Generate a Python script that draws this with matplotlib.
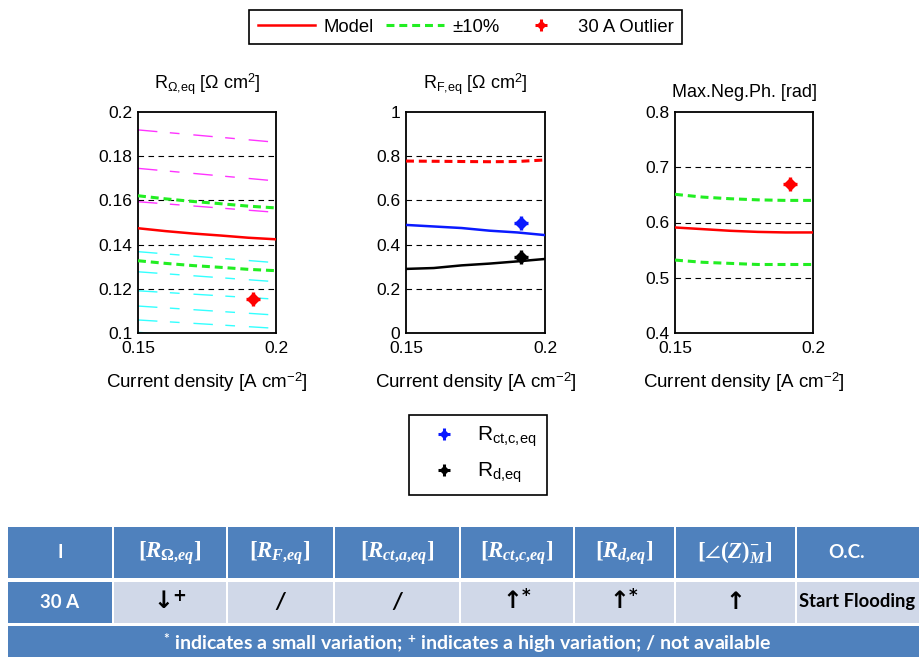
import numpy as np
import matplotlib.pyplot as plt
from matplotlib.lines import Line2D
from matplotlib.patches import Rectangle
from matplotlib.legend_handler import HandlerTuple
from matplotlib.ticker import FormatStrFormatter

plt.rcParams['font.family'] = ['Liberation Sans', 'DejaVu Sans']
plt.rcParams['mathtext.fontset'] = 'custom'
plt.rcParams['mathtext.it'] = 'Liberation Serif:italic:bold'
plt.rcParams['mathtext.rm'] = 'Liberation Serif:bold'
plt.rcParams['mathtext.bf'] = 'Liberation Serif:bold'

# current density [A cm-2]
cd = [0.15, 0.16, 0.17, 0.18, 0.19, 0.20]
cd_ends = [0.15, 0.20]
cd_out = 0.1915

# R_ohm,eq panel
r_ohm_model = [0.1474, 0.1461, 0.1450, 0.1441, 0.1431, 0.1424]
r_ohm_up = [0.1621, 0.1607, 0.1595, 0.1585, 0.1574, 0.1566]
r_ohm_low = [0.1327, 0.1315, 0.1305, 0.1297, 0.1288, 0.1282]
r_ohm_magenta = [[0.1919, 0.1863], [0.1745, 0.1688], [0.1594, 0.1546]]
r_ohm_cyan = [[0.1368, 0.1318], [0.1277, 0.1232], [0.1191, 0.1153],
              [0.1122, 0.1081], [0.1059, 0.1021], [0.1003, 0.0962]]
r_ohm_out = 0.1152

# R_F,eq panel
r_f_model = [0.778, 0.777, 0.776, 0.775, 0.776, 0.783]
r_ctc_model = [0.489, 0.482, 0.475, 0.463, 0.455, 0.443]
r_d_model = [0.290, 0.294, 0.306, 0.314, 0.324, 0.335]
r_ctc_out = 0.496
r_d_out = 0.343

# max negative phase panel
ph_model = [0.591, 0.588, 0.585, 0.583, 0.582, 0.582]
ph_up = [0.651, 0.646, 0.643, 0.641, 0.640, 0.640]
ph_low = [0.532, 0.528, 0.526, 0.524, 0.524, 0.524]
ph_out = 0.670

# table
tab_head = ['I', r'$[R_{\mathit{\Omega}{,}eq}]$', r'$[R_{F{,}eq}]$', r'$[R_{ct{,}a{,}eq}]$',
            r'$[R_{ct{,}c{,}eq}]$', r'$[R_{d{,}eq}]$', r'$[\angle(Z)^{-}_{M}]$', 'O.C.']
tab_row = ['30 A', '↓', '/', '/', '↑', '↑', '↑', 'Start Flooding']
tab_sup = ['', '+', '', '', '*', '*', '', '']
tab_note = ('$^{\\mathregular{*}}$ indicates a small variation; '
            '$^{\\mathregular{+}}$ indicates a high variation; / not available')

W, H = 920, 657
fig = plt.figure(figsize=(W / 100, H / 100), dpi=100)

green_ls = (0, (2.6, 1.6))
thin_ls = (0, (14, 9, 7, 10))
xlab = 'Current density [A cm$^{\\mathregular{-2}}$]'


def px_axes(x0, x1, y0, y1):
    return fig.add_axes([x0 / W, 1 - y1 / H, (x1 - x0) / W, (y1 - y0) / H])


def outlier(ax, x, y, c):
    ax.plot(x, y, 'D', color=c, ms=6, zorder=6)
    ax.plot(x, y, '+', color=c, ms=10.5, mew=2.4, zorder=6)


def style(ax, ylim, yticks, title, tpad):
    ax.set_xlim(0.15, 0.2)
    ax.set_ylim(*ylim)
    ax.set_xticks([0.15, 0.2])
    ax.set_yticks(yticks)
    ax.xaxis.set_major_formatter(FormatStrFormatter('%g'))
    ax.yaxis.set_major_formatter(FormatStrFormatter('%g'))
    ax.tick_params(direction='in', length=0, labelsize=12.5)
    ax.tick_params(axis='x', pad=6)
    ax.tick_params(axis='y', pad=4)
    for s in ax.spines.values():
        s.set_linewidth(1.3)
    for t in yticks[1:-1]:
        ax.axhline(t, color='k', lw=0.8, ls=(0, (5, 4)), zorder=1)
    ax.set_title(title, fontsize=13, pad=tpad)
    ax.set_xlabel(xlab, fontsize=13.5, labelpad=10)


# panel 1
ax1 = px_axes(138, 276, 112, 333)
for v in r_ohm_magenta:
    ax1.plot(cd_ends, v, color='#ff33ff', lw=1, ls=thin_ls, zorder=2)
for v in r_ohm_cyan:
    ax1.plot(cd_ends, v, color='#33ffff', lw=1, ls=thin_ls, zorder=2)
ax1.plot(cd, r_ohm_up, color='#22ee22', lw=2.2, ls=green_ls, zorder=3)
ax1.plot(cd, r_ohm_low, color='#22ee22', lw=2.2, ls=green_ls, zorder=3)
ax1.plot(cd, r_ohm_model, color='red', lw=1.8, zorder=4)
outlier(ax1, cd_out, r_ohm_out, 'red')
style(ax1, (0.1, 0.2), [0.1, 0.12, 0.14, 0.16, 0.18, 0.2],
      'R$_{\\mathregular{\\Omega{,}eq}}$ [Ω cm$^{\\mathregular{2}}$]', 16)

# panel 2
ax2 = px_axes(406, 545, 112, 333)
ax2.plot(cd, r_f_model, color='red', lw=2.2, ls=green_ls, zorder=4)
ax2.plot(cd, r_ctc_model, color='#0a1aff', lw=1.8, zorder=4)
ax2.plot(cd, r_d_model, color='black', lw=1.8, zorder=4)
outlier(ax2, cd_out, r_ctc_out, '#0a1aff')
outlier(ax2, cd_out, r_d_out, 'black')
style(ax2, (0, 1), [0, 0.2, 0.4, 0.6, 0.8, 1],
      'R$_{\\mathregular{F{,}eq}}$ [Ω cm$^{\\mathregular{2}}$]', 16)

# panel 3
ax3 = px_axes(675, 813, 112, 333)
ax3.plot(cd, ph_up, color='#22ee22', lw=2.2, ls=green_ls, zorder=3)
ax3.plot(cd, ph_low, color='#22ee22', lw=2.2, ls=green_ls, zorder=3)
ax3.plot(cd, ph_model, color='red', lw=1.8, zorder=4)
outlier(ax3, cd_out, ph_out, 'red')
style(ax3, (0.4, 0.8), [0.4, 0.5, 0.6, 0.7, 0.8], 'Max.Neg.Ph. [rad]', 11)


def mk(c):
    return (Line2D([], [], ls='none', marker='D', color=c, ms=4.5),
            Line2D([], [], ls='none', marker='+', color=c, ms=8, mew=2.2))


h1 = [Line2D([], [], color='red', lw=1.8),
      Line2D([], [], color='#22ee22', lw=2.2, ls=green_ls),
      mk('red')]
leg1 = fig.legend(h1, ['Model', '±10%', '30 A Outlier'], ncol=3, loc='center',
                  bbox_to_anchor=(465.5 / W, 1 - 27 / H), fontsize=13.3,
                  handlelength=3.1, handletextpad=0.45, columnspacing=0.7,
                  borderpad=0.45, fancybox=False, edgecolor='black', framealpha=1,
                  handler_map={tuple: HandlerTuple(ndivide=1)})
leg1.get_frame().set_linewidth(1.2)

h2 = [mk('#0a1aff'), mk('black')]
leg2 = fig.legend(h2, ['R$_{\\mathregular{ct{,}c{,}eq}}$', 'R$_{\\mathregular{d{,}eq}}$'],
                  loc='center', bbox_to_anchor=(478 / W, 1 - 455 / H), fontsize=15,
                  handlelength=2.4, handletextpad=0.4, labelspacing=0.55,
                  borderpad=0.5, borderaxespad=0, fancybox=False, edgecolor='black',
                  framealpha=1, handler_map={tuple: HandlerTuple(ndivide=1)})
leg2.get_frame().set_linewidth(1.2)

# table drawn in pixel space
tb = fig.add_axes([0, 0, 1, 1], zorder=-1)
tb.set_xlim(0, W)
tb.set_ylim(H, 0)
tb.axis('off')

blue = '#4f81bd'
light = '#d0d8e8'
edges = [7, 113, 227, 334, 460, 574, 675, 796, 930]
text_x = [60, 170, 280, 397, 517, 624, 735, 847]
for i in range(len(edges) - 1):
    x0, x1 = edges[i] + 1, edges[i + 1] - 1
    tb.add_patch(Rectangle((x0, 527), x1 - x0, 51, color=blue, lw=0))
    tb.add_patch(Rectangle((x0, 582), x1 - x0, 41, color=blue if i == 0 else light, lw=0))
tb.add_patch(Rectangle((8, 626), W, 40, color=blue, lw=0))

for i, s in enumerate(tab_head):
    if s.startswith('$'):
        tb.text(text_x[i], 553, s, ha='center', va='center', color='white', fontsize=16.5)
    else:
        tb.text(text_x[i], 553, s, ha='center', va='center', color='white',
                fontsize=13.5, family='Lato', weight='bold')

tb.text(text_x[0], 602, tab_row[0], ha='center', va='center', color='white',
        fontsize=13.5, family='Lato', weight='bold')
for i in range(1, 7):
    s = tab_row[i]
    if tab_sup[i]:
        s = s + '$^{\\mathregular{' + tab_sup[i] + '}}$'
    if tab_row[i] == '/':
        tb.text(text_x[i], 602, s, ha='center', va='center', color='black',
                fontsize=16, family='Lato', weight='bold', style='italic')
    else:
        tb.text(text_x[i], 602, s, ha='center', va='center', color='black',
                fontsize=17, family='DejaVu Sans', weight='bold')
tb.text(799, 602, tab_row[7], ha='left', va='center', color='black',
        fontsize=13.2, family='Lato', weight='bold')
tb.text(467, 643, tab_note, ha='center', va='center', color='white',
        fontsize=14, family='Lato', weight='bold')

fig.savefig('out.png', dpi=100)
